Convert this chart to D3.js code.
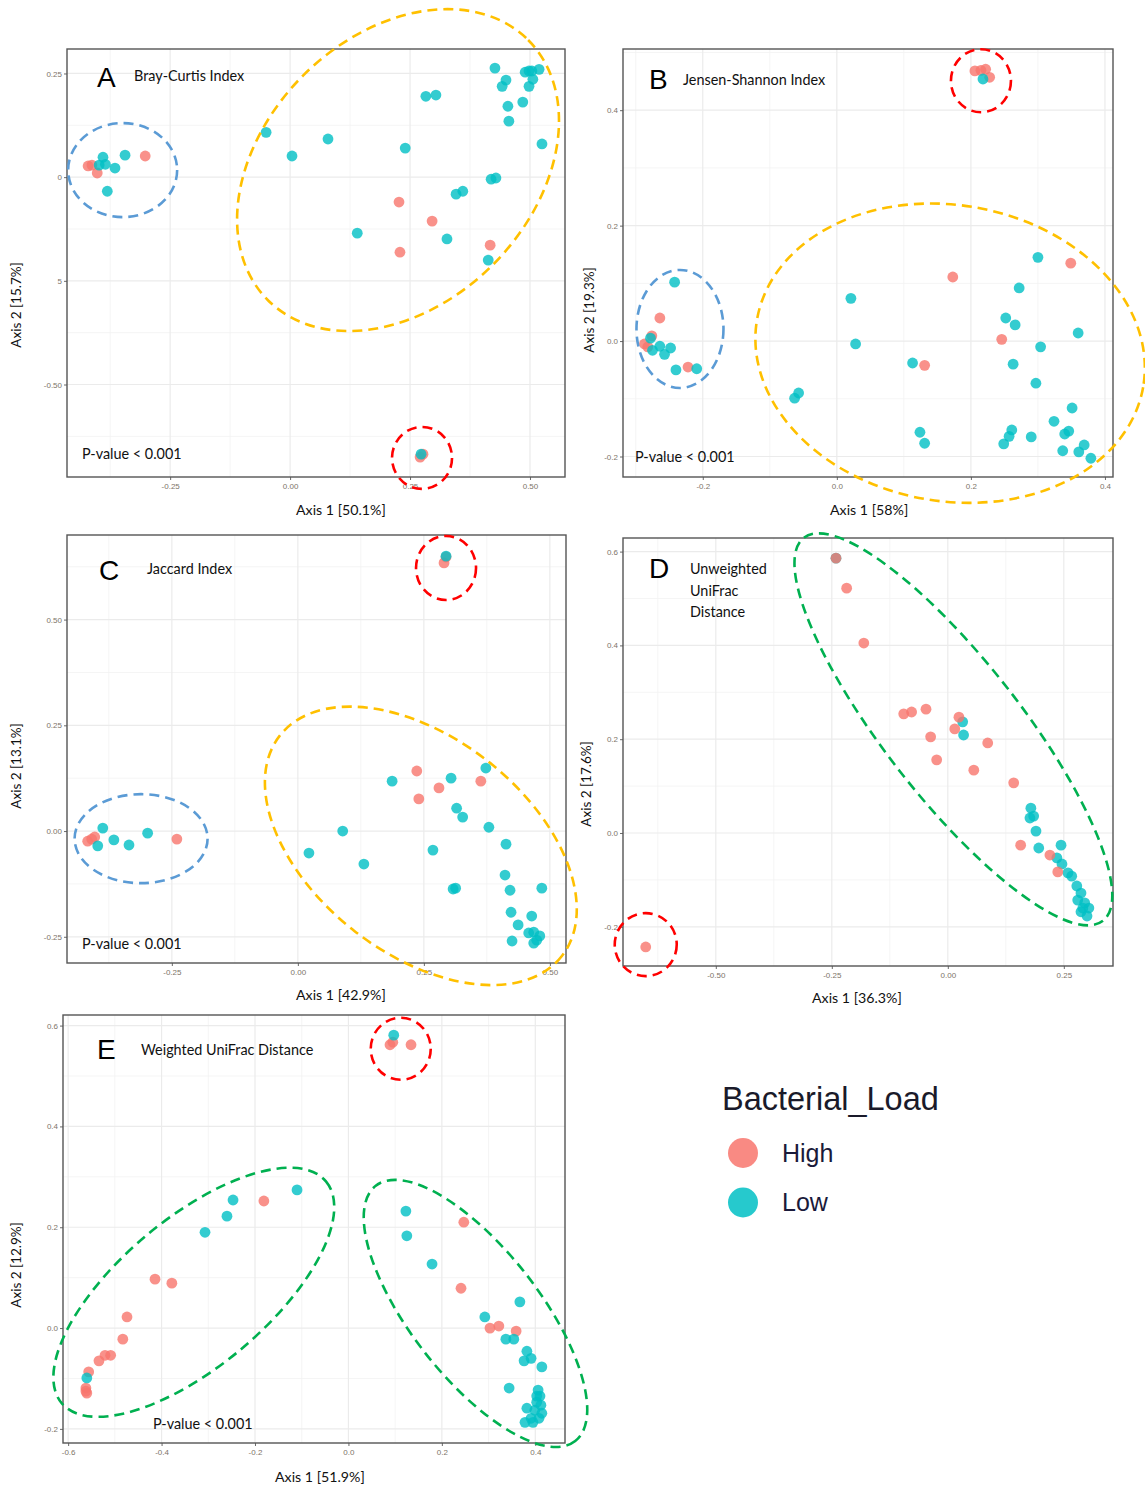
<!DOCTYPE html>
<html><head><meta charset="utf-8">
<script src="https://cdn.jsdelivr.net/npm/d3@7"></script>
<style>body{margin:0;background:#fff;} svg{display:block;}</style>
</head><body>
<svg id="chart" width="1145" height="1490"></svg>
<script>
// ---------------- DATA ----------------
// Panel A: Bray-Curtis
const A_high = [[-0.421,0.027],[-0.413,0.029],[-0.402,0.010],[-0.302,0.051],[0.227,-0.060],[0.296,-0.106],[0.229,-0.181],[0.417,-0.164],[0.271,-0.675],[0.277,-0.668]];
const A_low = [[-0.390,0.048],[-0.385,0.031],[-0.398,0.029],[-0.365,0.022],[-0.381,-0.034],[-0.344,0.053],[-0.050,0.108],[0.004,0.051],[0.079,0.092],[0.240,0.070],[0.283,0.195],[0.304,0.198],[0.427,0.263],[0.450,0.234],[0.442,0.219],[0.454,0.171],[0.456,0.135],[0.485,0.181],[0.490,0.253],[0.498,0.256],[0.504,0.256],[0.519,0.260],[0.506,0.236],[0.498,0.219],[0.525,0.080],[0.419,-0.005],[0.429,-0.002],[0.346,-0.041],[0.360,-0.034],[0.140,-0.135],[0.327,-0.149],[0.413,-0.200],[0.273,-0.668]];
const A_xTicks = [-0.25,0,0.25,0.5], A_xTickLabels = ["-0.25","0.00","0.25","0.50"];
const A_yTicks = [0.25,0,-0.25,-0.5], A_yTickLabels = ["0.25","0","5","-0.50"];

// Panel B: Jensen-Shannon
const B_high = [[-0.264,0.040],[-0.276,0.009],[-0.287,-0.005],[-0.282,-0.010],[-0.222,-0.045],[0.173,0.111],[0.349,0.135],[0.246,0.003],[0.131,-0.042],[0.206,0.468],[0.215,0.469],[0.222,0.471],[0.228,0.457]];
const B_low = [[-0.242,0.102],[-0.278,0.005],[-0.275,-0.016],[-0.264,-0.009],[-0.257,-0.023],[-0.248,-0.012],[-0.240,-0.050],[-0.209,-0.048],[0.021,0.074],[0.028,-0.005],[-0.063,-0.099],[-0.057,-0.090],[0.300,0.145],[0.272,0.092],[0.252,0.040],[0.266,0.028],[0.360,0.014],[0.304,-0.010],[0.113,-0.038],[0.263,-0.040],[0.297,-0.073],[0.124,-0.158],[0.131,-0.177],[0.249,-0.178],[0.257,-0.165],[0.261,-0.154],[0.290,-0.166],[0.324,-0.139],[0.340,-0.161],[0.346,-0.156],[0.351,-0.116],[0.337,-0.190],[0.361,-0.192],[0.369,-0.180],[0.379,-0.203],[0.218,0.454]];
const B_xTicks = [-0.2,0,0.2,0.4], B_xTickLabels = ["-0.2","0.0","0.2","0.4"];
const B_yTicks = [0.4,0.2,0,-0.2], B_yTickLabels = ["0.4","0.2","0.0","-0.2"];

// Panel C: Jaccard
const C_high = [[-0.417,-0.024],[-0.409,-0.019],[-0.403,-0.014],[-0.240,-0.019],[0.236,0.142],[0.240,0.076],[0.280,0.102],[0.363,0.118],[0.290,0.634],[0.294,0.648]];
const C_low = [[-0.397,-0.035],[-0.387,0.007],[-0.365,-0.021],[-0.335,-0.033],[-0.298,-0.005],[0.294,0.650],[0.187,0.118],[0.304,0.125],[0.373,0.149],[0.315,0.054],[0.327,0.033],[0.022,-0.052],[0.089,0.000],[0.131,-0.078],[0.268,-0.045],[0.379,0.009],[0.413,-0.031],[0.411,-0.104],[0.421,-0.140],[0.313,-0.135],[0.308,-0.137],[0.484,-0.135],[0.423,-0.192],[0.437,-0.222],[0.464,-0.201],[0.458,-0.241],[0.468,-0.239],[0.480,-0.248],[0.468,-0.265],[0.425,-0.260],[0.474,-0.258]];
const C_xTicks = [-0.25,0,0.25,0.5], C_xTickLabels = ["-0.25","0.00","0.25","0.50"];
const C_yTicks = [0.5,0.25,0,-0.25], C_yTickLabels = ["0.50","0.25","0.00","-0.25"];

// Panel D: Unweighted UniFrac
const D_high = [[-0.241,0.586],[-0.218,0.522],[-0.181,0.405],[-0.651,-0.243],[-0.095,0.254],[-0.078,0.258],[-0.047,0.264],[-0.037,0.205],[-0.024,0.156],[0.015,0.222],[0.024,0.247],[0.086,0.192],[0.056,0.134],[0.142,0.107],[0.157,-0.026],[0.220,-0.047],[0.237,-0.083]];
const D_low = [[-0.241,0.586],[0.032,0.237],[0.034,0.209],[0.179,0.053],[0.185,0.036],[0.177,0.032],[0.190,0.004],[0.196,-0.032],[0.244,-0.026],[0.235,-0.053],[0.246,-0.066],[0.259,-0.085],[0.267,-0.092],[0.278,-0.113],[0.287,-0.128],[0.280,-0.143],[0.295,-0.149],[0.304,-0.160],[0.287,-0.168],[0.300,-0.177],[0.291,-0.160]];
const D_xTicks = [-0.5,-0.25,0,0.25], D_xTickLabels = ["-0.50","-0.25","0.00","0.25"];
const D_yTicks = [0.6,0.4,0.2,0,-0.2], D_yTickLabels = ["0.6","0.4","0.2","0.0","-0.2"];

// Panel E: Weighted UniFrac
const E_high = [[-0.181,0.252],[-0.414,0.097],[-0.378,0.089],[-0.474,0.022],[-0.483,-0.022],[-0.521,-0.054],[-0.509,-0.054],[-0.534,-0.065],[-0.556,-0.087],[-0.562,-0.119],[-0.560,-0.129],[-0.562,-0.125],[0.089,0.562],[0.095,0.567],[0.134,0.562],[0.247,0.210],[0.241,0.079],[0.303,0.000],[0.322,0.004],[0.359,-0.006]];
const E_low = [[-0.110,0.274],[-0.247,0.254],[-0.260,0.222],[-0.307,0.190],[-0.560,-0.099],[0.097,0.581],[0.123,0.232],[0.125,0.183],[0.179,0.127],[0.367,0.052],[0.292,0.022],[0.337,-0.022],[0.354,-0.022],[0.382,-0.046],[0.391,-0.060],[0.414,-0.077],[0.376,-0.065],[0.344,-0.119],[0.406,-0.123],[0.410,-0.135],[0.403,-0.147],[0.412,-0.153],[0.399,-0.163],[0.414,-0.169],[0.382,-0.159],[0.391,-0.179],[0.378,-0.187],[0.395,-0.187],[0.408,-0.179],[0.403,-0.135]];
const E_xTicks = [-0.6,-0.4,-0.2,0,0.2,0.4], E_xTickLabels = ["-0.6","-0.4","-0.2","0.0","0.2","0.4"];
const E_yTicks = [0.6,0.4,0.2,0,-0.2], E_yTickLabels = ["0.6","0.4","0.2","0.0","-0.2"];

const legendTitle = "Bacterial_Load";
const groups = ["High","Low"];

// ---------------- STYLE / LAYOUT ----------------
const COL = {High:"#F8766D", Low:"#00BFC4"};
const RING = {yellow:"#FFC000", blue:"#5B9BD5", red:"#FF0000", green:"#00B050"};
const TXT = "'Lato','Open Sans',sans-serif";
const ARIAL = "'Liberation Sans',Arial,sans-serif";

const panels = [
 {key:"A", high:A_high, low:A_low, xT:A_xTicks, xL:A_xTickLabels, yT:A_yTicks, yL:A_yTickLabels,
  frame:{l:67,t:49,r:565,b:477}, xD:[-0.465,0.573], yD:[-0.723,0.309],
  letter:[97,87], title:["Bray-Curtis Index"], titlePos:[134,81], pval:[82,459],
  xTitle:"Axis 1 [50.1%]", xTitlePos:[296,515], yTitle:"Axis 2 [15.7%]", yTitlePos:[21,305],
  rings:[{c:"yellow",x:0.225,y:0.017,rx:184,ry:134,rot:-45},{c:"blue",x:-0.349,y:0.017,rx:54.5,ry:47,rot:0},{c:"red",x:0.275,y:-0.677,rx:30,ry:31,rot:0}]},
 {key:"B", high:B_high, low:B_low, xT:B_xTicks, xL:B_xTickLabels, yT:B_yTicks, yL:B_yTickLabels,
  frame:{l:623,t:49,r:1113,b:477}, xD:[-0.319,0.412], yD:[-0.2355,0.506],
  letter:[649,89], title:["Jensen-Shannon Index"], titlePos:[683,85], pval:[635,462],
  xTitle:"Axis 1 [58%]", xTitlePos:[830,515], yTitle:"Axis 2 [19.3%]", yTitlePos:[594,310],
  rings:[{c:"yellow",x:0.169,y:-0.021,rx:196,ry:148,rot:10},{c:"blue",x:-0.234,y:0.021,rx:43.5,ry:59,rot:0},{c:"red",x:0.215,y:0.451,rx:30,ry:31.5,rot:0}]},
 {key:"C", high:C_high, low:C_low, xT:C_xTicks, xL:C_xTickLabels, yT:C_yTicks, yL:C_yTickLabels,
  frame:{l:67,t:535,r:566,b:963}, xD:[-0.458,0.532], yD:[-0.312,0.700],
  letter:[99,580], title:["Jaccard Index"], titlePos:[147,574], pval:[82,949],
  xTitle:"Axis 1 [42.9%]", xTitlePos:[296,1000], yTitle:"Axis 2 [13.1%]", yTitlePos:[21,766],
  rings:[{c:"yellow",x:0.244,y:-0.035,rx:179,ry:108,rot:38},{c:"blue",x:-0.311,y:-0.018,rx:66.5,ry:44.5,rot:0},{c:"red",x:0.294,y:0.622,rx:30,ry:32,rot:0}]},
 {key:"D", high:D_high, low:D_low, lowFirst:true, xT:D_xTicks, xL:D_xTickLabels, yT:D_yTicks, yL:D_yTickLabels,
  frame:{l:623,t:538,r:1113,b:966}, xD:[-0.700,0.356], yD:[-0.2836,0.629],
  letter:[649,578], title:["Unweighted","UniFrac","Distance"], titlePos:[690,574], pval:null,
  xTitle:"Axis 1 [36.3%]", xTitlePos:[812,1003], yTitle:"Axis 2 [17.6%]", yTitlePos:[591,784],
  rings:[{c:"green",x:0.012,y:0.221,rx:243,ry:68,rot:52},{c:"red",x:-0.651,y:-0.238,rx:31,ry:31.5,rot:0}]},
 {key:"E", high:E_high, low:E_low, xT:E_xTicks, xL:E_xTickLabels, yT:E_yTicks, yL:E_yTickLabels,
  frame:{l:63,t:1015,r:565,b:1443}, xD:[-0.611,0.4636], yD:[-0.228,0.621],
  letter:[97,1059], title:["Weighted UniFrac Distance"], titlePos:[141,1055], pval:[153,1429],
  xTitle:"Axis 1 [51.9%]", xTitlePos:[275,1482], yTitle:"Axis 2 [12.9%]", yTitlePos:[21,1265],
  rings:[{c:"green",x:-0.331,y:0.071,rx:172.5,ry:74,rot:-40},{c:"green",x:0.272,y:0.029,rx:162,ry:64,rot:52},{c:"red",x:0.112,y:0.554,rx:30,ry:31,rot:0}]}
];

const svg = d3.select("#chart");
svg.append("rect").attr("width",1145).attr("height",1490).attr("fill","#fff");

function minors(ticks, dom){
  const s = Math.abs(ticks[1]-ticks[0]);
  const out=[]; const t0 = Math.min(...ticks);
  for(let k=-20;k<=20;k++){ const v=t0+s/2+k*s; if(v>dom[0]&&v<dom[1]) out.push(v);}
  return out;
}

panels.forEach(p=>{
  const f=p.frame;
  const x=d3.scaleLinear().domain(p.xD).range([f.l,f.r]);
  const y=d3.scaleLinear().domain(p.yD).range([f.b,f.t]);
  const g=svg.append("g");
  g.append("rect").attr("x",f.l).attr("y",f.t).attr("width",f.r-f.l).attr("height",f.b-f.t).attr("fill","#fff");
  minors(p.xT,p.xD).forEach(v=>g.append("line").attr("x1",x(v)).attr("x2",x(v)).attr("y1",f.t).attr("y2",f.b).attr("stroke","#f3f3f3").attr("stroke-width",0.8));
  minors(p.yT,p.yD).forEach(v=>g.append("line").attr("y1",y(v)).attr("y2",y(v)).attr("x1",f.l).attr("x2",f.r).attr("stroke","#f3f3f3").attr("stroke-width",0.8));
  p.xT.forEach(v=>g.append("line").attr("x1",x(v)).attr("x2",x(v)).attr("y1",f.t).attr("y2",f.b).attr("stroke","#ebebeb").attr("stroke-width",1.2));
  p.yT.forEach(v=>g.append("line").attr("y1",y(v)).attr("y2",y(v)).attr("x1",f.l).attr("x2",f.r).attr("stroke","#ebebeb").attr("stroke-width",1.2));

  const xa=g.append("g").attr("transform",`translate(0,${f.b})`)
    .call(d3.axisBottom(x).tickValues(p.xT).tickFormat((d,i)=>p.xL[i]).tickSize(3).tickPadding(3));
  const ya=g.append("g").attr("transform",`translate(${f.l},0)`)
    .call(d3.axisLeft(y).tickValues(p.yT).tickFormat((d,i)=>p.yL[i]).tickSize(3).tickPadding(2));
  [xa,ya].forEach(a=>{
    a.select(".domain").remove();
    a.selectAll(".tick line").attr("stroke","#444").attr("stroke-width",0.8);
    a.selectAll(".tick text").attr("fill","#7d7468").style("font-family",ARIAL).style("font-size","8px");
  });
  g.append("rect").attr("x",f.l).attr("y",f.t).attr("width",f.r-f.l).attr("height",f.b-f.t)
    .attr("fill","none").attr("stroke","#555").attr("stroke-width",1.4);

  const order = p.lowFirst ? [["Low",p.low],["High",p.high]] : [["High",p.high],["Low",p.low]];
  order.forEach(([grp,arr])=>{
    g.append("g").selectAll("circle").data(arr).join("circle")
      .attr("cx",d=>x(d[0])).attr("cy",d=>y(d[1])).attr("r",5.4)
      .attr("fill",COL[grp]).attr("fill-opacity",0.8);
  });

  p.rings.forEach(r=>{
    const cx=x(r.x), cy=y(r.y);
    g.append("ellipse").attr("cx",0).attr("cy",0).attr("rx",r.rx).attr("ry",r.ry)
      .attr("transform",`translate(${cx},${cy}) rotate(${r.rot})`)
      .attr("fill","none").attr("stroke",RING[r.c]).attr("stroke-width",2.6)
      .attr("stroke-dasharray","10,6");
  });

  g.append("text").attr("x",p.letter[0]).attr("y",p.letter[1]).text(p.key)
    .style("font-family",ARIAL).style("font-size","28px").attr("fill","#000");
  p.title.forEach((t,i)=>g.append("text").attr("x",p.titlePos[0]).attr("y",p.titlePos[1]+i*21.5).text(t)
    .style("font-family",TXT).style("font-size","14.4px").attr("fill","#111"));
  if(p.pval) g.append("text").attr("x",p.pval[0]).attr("y",p.pval[1]).text("P-value < 0.001")
    .style("font-family",TXT).style("font-size","14.4px").attr("fill","#111");
  g.append("text").attr("x",p.xTitlePos[0]).attr("y",p.xTitlePos[1]).text(p.xTitle)
    .style("font-family",TXT).style("font-size","14.2px").attr("fill","#111");
  g.append("text").attr("transform",`translate(${p.yTitlePos[0]},${p.yTitlePos[1]}) rotate(-90)`)
    .attr("text-anchor","middle").text(p.yTitle)
    .style("font-family",TXT).style("font-size","13.5px").attr("fill","#111");
});

// Legend
const lg=svg.append("g");
lg.append("text").attr("x",722).attr("y",1110).text(legendTitle)
  .style("font-family",ARIAL).style("font-size","32.5px").attr("fill","#1a1a2a");
groups.forEach((gname,i)=>{
  lg.append("circle").attr("cx",743).attr("cy",1153+i*49.5).attr("r",15).attr("fill",COL[gname]).attr("fill-opacity",0.85);
  lg.append("text").attr("x",782).attr("y",1162+i*49).text(gname)
    .style("font-family",ARIAL).style("font-size","25px").attr("fill","#1a1a3a");
});
</script>
</body></html>
